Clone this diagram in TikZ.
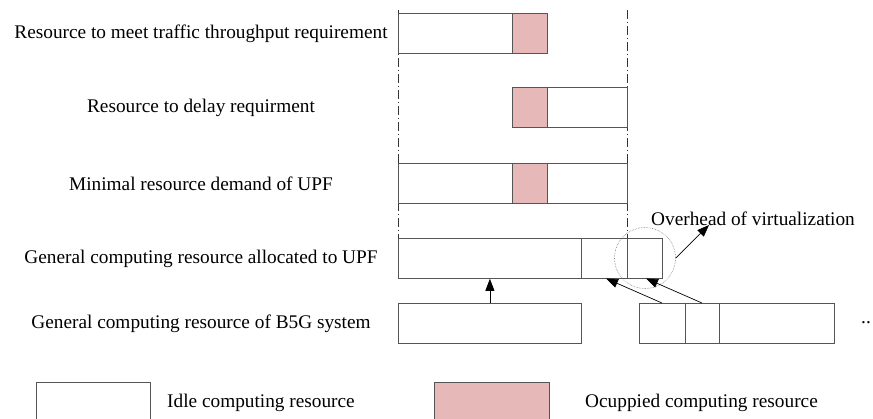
\documentclass[tikz,border=0pt]{standalone}
\usepackage{fontspec}
\setmainfont{Liberation Serif}
\usetikzlibrary{arrows.meta}
\definecolor{busy}{HTML}{E6B8B7}
\definecolor{edge}{HTML}{555555}
\begin{document}
\begin{tikzpicture}[x=1pt,y=-1pt,
  cell/.style={draw=edge,line width=0.8pt,fill=white,inner sep=0pt,anchor=north west,minimum height=40pt},
  used/.style={cell,fill=busy},
  lbl/.style={font=\fontsize{19.3}{22}\selectfont,inner sep=0pt},
  guide/.style={draw=black!80,line width=0.8pt,dash pattern=on 9pt off 3pt on 1pt off 3pt},
  pointer/.style={draw=black,line width=0.7pt,-{Triangle[length=12pt,width=9pt]}}]
\useasboundingbox (0,0) rectangle (873,419);

% row labels
\node[lbl] (t1) at (201,34) {Resource to meet traffic throughput requirement};
\node[lbl] (t2) at (201,108) {Resource to delay requirment};
\node[lbl] (t3) at (201,184) {Minimal resource demand of UPF};
\node[lbl] (t4) at (201,259) {General computing resource allocated to UPF};
\node[lbl] (t5) at (201,324) {General computing resource of B5G system};

% guide lines
\coordinate (g1a) at (398,10); \coordinate (g1b) at (398,238);
\coordinate (g2a) at (627,10); \coordinate (g2b) at (627,238);
\draw[guide] (g1a) -- (g1b);
\draw[guide] (g2a) -- (g2b);

% row 1
\node[cell,minimum width=114pt] (r1a) at (398,13) {};
\node[used,minimum width=35pt] (r1b) at (512,13) {};
% row 2
\node[used,minimum width=35pt] (r2a) at (512,87) {};
\node[cell,minimum width=80pt] (r2b) at (547,87) {};
% row 3
\node[cell,minimum width=229pt] (r3a) at (398,163) {};
\node[used,minimum width=35pt] (r3b) at (512,163) {};
% row 4
\node[cell,minimum width=183pt] (r4a) at (398,238) {};
\node[cell,minimum width=46pt] (r4b) at (581,238) {};
\node[cell,minimum width=35pt] (r4c) at (627,238) {};
% row 5
\node[cell,minimum width=183pt] (r5a) at (398,303) {};
\node[cell,minimum width=46pt] (r5b) at (639,303) {};
\node[cell,minimum width=34pt] (r5c) at (685,303) {};
\node[cell,minimum width=115pt] (r5d) at (719,303) {};
\node[lbl] (more) at (866,323) {..};

% overhead marker
\node[draw=black!50,densely dotted,line width=0.6pt,circle,minimum size=61pt,inner sep=0pt] (ring) at (645,258) {};
\node[lbl,anchor=west] (ovh) at (651,219) {Overhead of virtualization};

% arrows
\draw[pointer] (r5a.north) -- (r5a.north |- r4a.south);
\draw[pointer] ([xshift=23pt]r5b.north west) -- (606,278.5);
\draw[pointer] ([xshift=17pt]r5c.north west) -- (646,278.5);
\draw[pointer] (ring.east) -- (709,225);

% legend
\node[cell,minimum width=114pt] (k1) at (36,382) {};
\node[lbl,anchor=west] (k1t) at (167,403) {Idle computing resource};
\node[used,minimum width=115pt] (k2) at (434,382) {};
\node[lbl,anchor=west] (k2t) at (585,403) {Ocuppied computing resource};
\end{tikzpicture}
\end{document}
